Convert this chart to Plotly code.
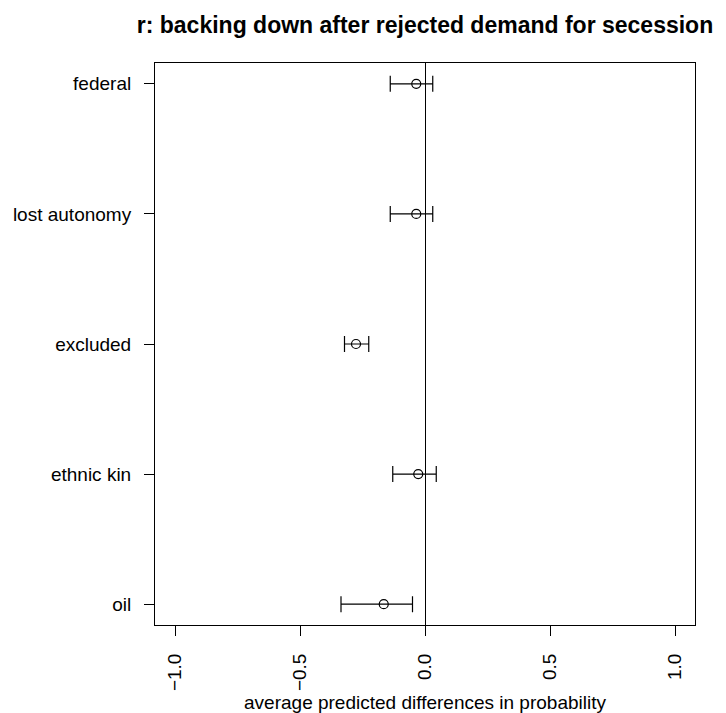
import plotly.graph_objects as go

categories = ["federal", "lost autonomy", "excluded", "ethnic kin", "oil"]
estimate = [-0.035, -0.035, -0.276, -0.027, -0.165]
lower = [-0.139, -0.139, -0.322, -0.129, -0.336]
upper = [0.031, 0.031, -0.225, 0.045, -0.050]
x_ticks = [-1.0, -0.5, 0.0, 0.5, 1.0]

err_plus = [u - e for u, e in zip(upper, estimate)]
err_minus = [e - l for e, l in zip(estimate, lower)]

FONT = "Liberation Sans, Arial, sans-serif"

fig = go.Figure()
fig.add_trace(go.Scatter(
    x=estimate, y=categories, mode="markers",
    marker=dict(symbol="circle-open", size=9, color="black", line=dict(width=1.2, color="black")),
    error_x=dict(type="data", symmetric=False, array=err_plus, arrayminus=err_minus,
                 color="black", thickness=1.2, width=8),
    showlegend=False, hoverinfo="x+y",
))

fig.update_layout(
    width=726, height=713,
    margin=dict(l=155, r=31, t=63, b=88),
    paper_bgcolor="white", plot_bgcolor="white",
    font=dict(family=FONT, size=19, color="black"),
    title=dict(text="<b>r: backing down after rejected demand for secession</b>",
               font=dict(family=FONT, size=23, color="black"),
               x=0.5, xref="paper", xanchor="center",
               y=1 - 25 / 713, yref="container", yanchor="middle"),
    xaxis=dict(range=[-1.08, 1.08], tickvals=x_ticks, tickformat=".1f", tickangle=-90,
               ticks="outside", ticklen=10, tickwidth=1, tickcolor="black",
               showgrid=False, showline=True, mirror=True, linecolor="black", linewidth=1,
               zeroline=True, zerolinecolor="black", zerolinewidth=1,
               ticklabelstandoff=10, automargin=False,
               title=dict(text="average predicted differences in probability", standoff=6,
                          font=dict(size=19))),
    yaxis=dict(categoryorder="array", categoryarray=categories[::-1],
               range=[-0.16, 4.16], automargin=False,
               ticks="outside", ticklen=10, tickwidth=1, tickcolor="black",
               showgrid=False, showline=True, mirror=True, linecolor="black", linewidth=1,
               zeroline=False, ticklabelstandoff=9),
)

fig.write_html("out.html")
